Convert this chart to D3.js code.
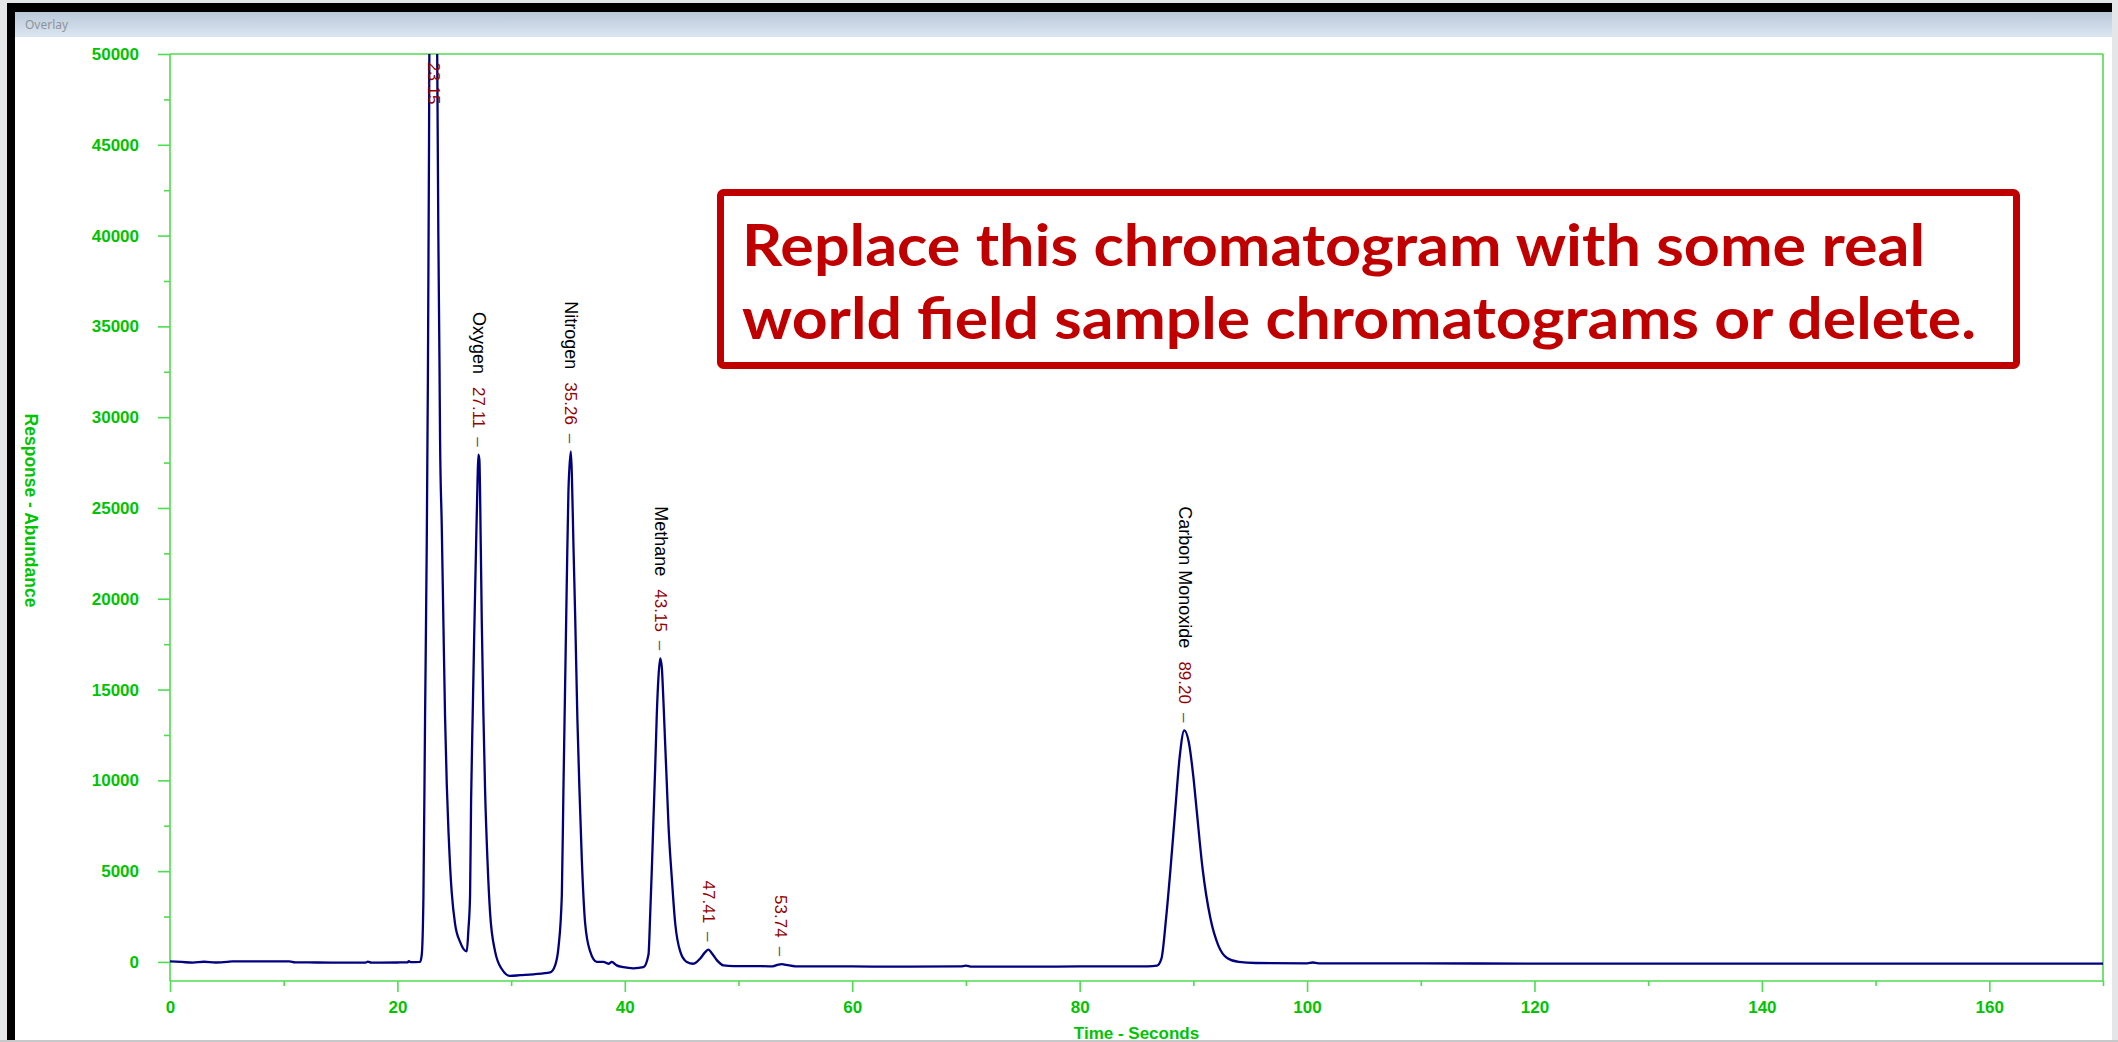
<!DOCTYPE html>
<html>
<head>
<meta charset="utf-8">
<script src="https://cdn.jsdelivr.net/npm/d3@7"></script>
<style>
  html, body { margin: 0; padding: 0; background: #e5e6e7; overflow: hidden; }
  svg { display: block; }
</style>
</head>
<body>
<svg id="chart" width="2118" height="1042"></svg>
<script>
// trace: time (s) / response
const timeSec = [
  0, 1, 2, 3, 4, 5, 5.5, 8, 10.5, 11, 13, 16, 17.2, 17.4, 17.7, 20, 20.9, 21.0, 21.2,
  21.99, 22.14, 22.29, 22.43, 22.58, 22.68, 22.78, 22.84, 23.15, 23.50, 23.60, 23.70, 23.75,
  23.90, 24.05, 24.19, 24.34, 24.49, 24.63, 24.78, 25.07, 25.51, 26.10,
  26.24, 26.39, 26.48, 26.63, 26.74, 26.92, 27.04, 27.12, 27.21, 27.33, 27.42, 27.56, 27.71,
  27.92, 28.15, 28.59, 29.18, 29.91, 30.79, 31.96, 33.43, 33.87,
  34.16, 34.46, 34.60, 34.75, 34.90, 35.04, 35.25, 35.34, 35.48, 35.63, 35.83, 36.01, 36.22,
  36.51, 36.95, 37.54, 38.12, 38.56, 38.85, 39.29, 39.88, 40.76, 41.64,
  42.08, 42.23, 42.38, 42.52, 42.67, 42.81, 42.96, 43.11, 43.25, 43.40, 43.55, 43.69, 43.84, 44.13,
  44.43, 44.87, 45.45, 46.04, 46.63, 47.07, 47.36, 47.65, 48.09, 48.68, 49.56, 51.03,
  53.0, 53.5, 53.8, 54.2, 55, 60, 65, 69.5, 70, 70.5, 75, 80, 86, 86.8,
  87.2, 87.6, 88.0, 88.4, 88.8, 89.2, 89.6, 90.0, 90.3, 90.8, 91.5, 92.2, 93.0, 94, 95.5,
  100, 100.5, 101, 110, 120, 130, 140, 150, 160, 170
];
const response = [
  30, 0, -40, 10, -30, 0, 35, 35, 35, -20, -30, -40, -40, 20, -40, -30, -20, 40, -10,
  0, 390, 3670, 13340, 23000, 32000, 45000, 56000, 95000, 50000, 40000, 33000, 28800,
  24000, 18500, 13500, 9800, 7200, 5300, 3800, 2100, 1100, 580,
  1740, 3670, 8890, 13920, 17590, 23000, 26290, 27930, 27640, 23000, 18750, 13720, 9470,
  5600, 2700, 580, -390, -770, -730, -680, -580, -190,
  770, 3670, 9470, 15270, 21070, 25900, 28120, 26870, 23000, 19140, 13340, 9470, 5600,
  2130, 580, 0, 0, -100, 0, -190, -290, -350, -290,
  390, 2600, 5200, 7900, 10700, 13600, 15700, 16720, 16240, 14300, 11980, 9860, 7540, 4640,
  2130, 580, 0, -100, 190, 540, 680, 480, 100, -190, -230, -230,
  -240, -150, -120, -160, -240, -250, -260, -250, -200, -260, -260, -250, -240, -200,
  200, 2400, 5200, 8300, 11300, 12750, 12100, 10200, 8300, 5200, 2400, 900, 200, 0, -60,
  -80, -30, -80, -80, -90, -90, -90, -90, -90, -90
];

// labelled peaks
const peakTimes = [23.15, 27.11, 35.26, 43.15, 47.41, 53.74, 89.20];
const peakNames = ['', 'Oxygen', 'Nitrogen', 'Methane', '', '', 'Carbon Monoxide'];
const peakHeights = [95000, 27930, 28120, 16720, 680, -120, 12750];

// axes
const yTicks = [0, 5000, 10000, 15000, 20000, 25000, 30000, 35000, 40000, 45000, 50000];
const yMinorTicks = [2500, 7500, 12500, 17500, 22500, 27500, 32500, 37500, 42500, 47500];
const xTicks = [0, 20, 40, 60, 80, 100, 120, 140, 160];
const xMinorTicks = [10, 30, 50, 70, 90, 110, 130, 150, 170];

const noteLines = [
  'Replace this chromatogram with some real',
  'world field sample chromatograms or delete.'
];

const svg = d3.select('#chart');
const green = '#00c400';
const axisGreen = '#4fdc4f';
const bold = 'bold 17px "Liberation Sans", Arial, sans-serif';

// window frame
const defs = svg.append('defs');
const grad = defs.append('linearGradient')
  .attr('id', 'titlebar')
  .attr('x1', 0).attr('y1', 0).attr('x2', 0).attr('y2', 1);
grad.append('stop').attr('offset', '0%').attr('stop-color', '#bac8d8');
grad.append('stop').attr('offset', '100%').attr('stop-color', '#dbe6f2');

svg.append('rect')
  .attr('x', 7).attr('y', 3).attr('width', 2105).attr('height', 1037)
  .attr('fill', '#fff');
svg.append('rect')
  .attr('x', 7).attr('y', 3).attr('width', 2105).attr('height', 9)
  .attr('fill', '#000');
svg.append('rect')
  .attr('x', 7).attr('y', 3).attr('width', 8).attr('height', 1037)
  .attr('fill', '#000');
svg.append('rect')
  .attr('x', 15).attr('y', 12).attr('width', 2097).attr('height', 25)
  .attr('fill', 'url(#titlebar)');
svg.append('rect')
  .attr('x', 0).attr('y', 1040).attr('width', 2118).attr('height', 2)
  .attr('fill', '#c6c8c9');
svg.append('text')
  .attr('x', 25).attr('y', 29)
  .attr('fill', '#8e949a')
  .style('font', '12px "Noto Sans", "Open Sans", sans-serif')
  .text('Overlay');

// plot area
const plot = {left: 170, top: 54, right: 2103, bottom: 981};

const x = d3.scaleLinear()
  .domain([0, 170])
  .range([plot.left, plot.right]);

const y = d3.scaleLinear()
  .domain([-1050, 50000])
  .range([plot.bottom, plot.top]);

defs.append('clipPath')
  .attr('id', 'plotclip')
  .append('rect')
  .attr('x', plot.left).attr('y', plot.top)
  .attr('width', plot.right - plot.left).attr('height', plot.bottom - plot.top);

// y axis
svg.append('g')
  .attr('transform', `translate(${plot.left},0)`)
  .call(d3.axisLeft(y).tickValues(yTicks).tickFormat(d3.format('d'))
    .tickSize(12).tickSizeOuter(0).tickPadding(19));
svg.append('g')
  .attr('transform', `translate(${plot.left},0)`)
  .call(d3.axisLeft(y).tickValues(yMinorTicks).tickSize(6).tickSizeOuter(0).tickFormat(''));

// x axis
svg.append('g')
  .attr('transform', `translate(0,${plot.bottom})`)
  .call(d3.axisBottom(x).tickValues(xTicks).tickFormat(d3.format('d'))
    .tickSize(11).tickSizeOuter(0).tickPadding(9));
svg.append('g')
  .attr('transform', `translate(0,${plot.bottom})`)
  .call(d3.axisBottom(x).tickValues(xMinorTicks).tickSize(5).tickSizeOuter(0).tickFormat(''));

svg.selectAll('.domain').remove();
svg.selectAll('.tick line')
  .attr('stroke', axisGreen)
  .attr('stroke-width', 1.6);
svg.selectAll('.tick text')
  .attr('fill', green)
  .style('font', bold);

// frame lines
const frame = svg.append('g')
  .attr('stroke', axisGreen)
  .attr('stroke-width', 1.6)
  .attr('fill', 'none');
frame.append('line')
  .attr('x1', plot.left).attr('x2', plot.right)
  .attr('y1', plot.top).attr('y2', plot.top);
frame.append('line')
  .attr('x1', plot.left).attr('x2', plot.right)
  .attr('y1', plot.bottom).attr('y2', plot.bottom);
frame.append('line')
  .attr('x1', plot.left).attr('x2', plot.left)
  .attr('y1', plot.top).attr('y2', plot.bottom);
frame.append('line')
  .attr('x1', plot.right).attr('x2', plot.right)
  .attr('y1', plot.top).attr('y2', plot.bottom);

// axis titles
svg.append('text')
  .attr('x', (plot.left + plot.right) / 2)
  .attr('y', 1039)
  .attr('text-anchor', 'middle')
  .attr('fill', green)
  .style('font', bold)
  .text('Time - Seconds');

svg.append('text')
  .attr('transform', `translate(31,${(plot.top + plot.bottom) / 2 - 7}) rotate(90)`)
  .attr('text-anchor', 'middle')
  .attr('dy', '0.35em')
  .attr('fill', green)
  .style('font', 'bold 17.5px "Liberation Sans", Arial, sans-serif')
  .text('Response - Abundance');

// trace
const trace = timeSec.map((t, i) => ({t: t, v: response[i]}));

const line = d3.line()
  .x(d => x(d.t))
  .y(d => y(d.v))
  .curve(d3.curveMonotoneX);

svg.append('path')
  .datum(trace)
  .attr('clip-path', 'url(#plotclip)')
  .attr('d', line)
  .attr('fill', 'none')
  .attr('stroke', '#000080')
  .attr('stroke-width', 2.3)
  .attr('stroke-linejoin', 'round');

// peak labels
const yMax = y.domain()[1];
peakTimes.forEach((t, i) => {
  const offScale = peakHeights[i] > yMax;
  const py = offScale ? plot.top + 8 : y(peakHeights[i]) - 8;
  const label = svg.append('text')
    .attr('transform', `translate(${x(t)},${py}) rotate(90)`)
    .attr('text-anchor', offScale ? 'start' : 'end')
    .attr('dy', '0.35em')
    .style('font-family', '"Liberation Sans", Arial, sans-serif');

  if(peakNames[i].length && !offScale) {
    label.append('tspan')
      .attr('fill', '#000')
      .style('font-size', '18px')
      .text(peakNames[i]);
  }
  label.append('tspan')
    .attr('dx', peakNames[i].length && !offScale ? 13 : 0)
    .attr('fill', '#960000')
    .style('font-size', '17px')
    .text(t.toFixed(2));
  if(!offScale) {
    label.append('tspan')
      .attr('dx', 9)
      .attr('fill', '#555')
      .style('font-size', '17px')
      .text('\u2013');
  }
});

// note box
const note = svg.append('g');
note.append('rect')
  .attr('x', 720.5).attr('y', 192.5)
  .attr('width', 1296).attr('height', 173)
  .attr('rx', 3)
  .attr('fill', '#fff')
  .attr('stroke', '#c00000')
  .attr('stroke-width', 7);

const noteWidths = [1183, 1234];
note.selectAll('text')
  .data(noteLines)
  .enter().append('text')
  .attr('x', 742)
  .attr('y', (d, i) => 266 + i * 73)
  .attr('textLength', (d, i) => noteWidths[i])
  .attr('lengthAdjust', 'spacingAndGlyphs')
  .attr('fill', '#c00000')
  .style('font', 'bold 58px Lato, "Open Sans", sans-serif')
  .text(d => d);
</script>
</body>
</html>
